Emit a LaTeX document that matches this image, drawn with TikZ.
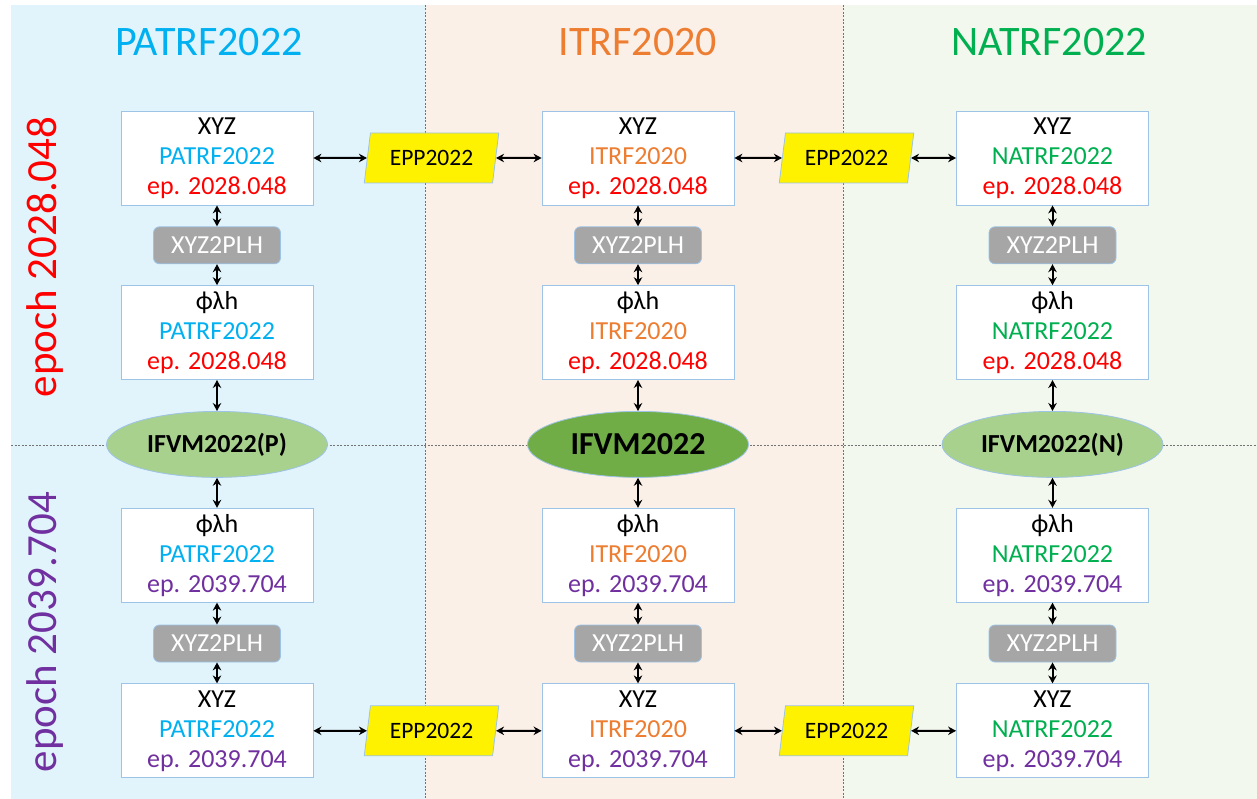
\documentclass[tikz,border=0pt]{standalone}
\usepackage{fontspec}
\setmainfont{Carlito}
\usepackage{xcolor}
\usetikzlibrary{shapes.geometric, arrows.meta, positioning}

\definecolor{patbg}{HTML}{E2F4FB}
\definecolor{itrbg}{HTML}{FBF0E8}
\definecolor{natbg}{HTML}{F3F8EE}
\definecolor{patcol}{HTML}{00B0F0}
\definecolor{itrcol}{HTML}{ED7D31}
\definecolor{natcol}{HTML}{00B050}
\definecolor{epacol}{HTML}{FF0000}
\definecolor{epbcol}{HTML}{7030A0}
\definecolor{edgecol}{HTML}{9DC3E6}
\definecolor{cvtfill}{HTML}{A6A6A6}
\definecolor{vmlight}{HTML}{A9D18E}
\definecolor{vmdark}{HTML}{70AD47}

\begin{document}
\begin{tikzpicture}[
    x=1pt, y=-1pt,
    coordbox/.style={rectangle, draw=edgecol, fill=white, line width=0.8pt, minimum width=192pt, minimum height=94pt, inner sep=2pt, align=center, font=\fontsize{26}{30}\selectfont},
    cvtbox/.style={rectangle, rounded corners=6pt, draw=edgecol, fill=cvtfill, line width=0.8pt, minimum width=127pt, minimum height=37pt, inner sep=1pt, text=white, font=\fontsize{26}{28}\selectfont},
    vmbox/.style={ellipse, draw=edgecol, fill=vmlight, line width=0.8pt, minimum width=221pt, minimum height=66pt, inner sep=0pt, font=\fontsize{26}{28}\selectfont\bfseries},
    eppbox/.style={trapezium, trapezium left angle=76, trapezium right angle=104, trapezium stretches=true, draw=edgecol, fill=yellow, line width=0.8pt, minimum width=135pt, minimum height=50pt, inner sep=1pt, font=\fontsize{23.5}{26}\selectfont},
    framelabel/.style={font=\fontsize{42}{48}\selectfont},
    epochlabel/.style={rotate=90, font=\fontsize{43}{48}\selectfont},
    biarrow/.style={{Stealth[length=8pt,width=8.5pt]}-{Stealth[length=8pt,width=8.5pt]}, line width=2pt},
    divider/.style={draw=black!55, line width=0.7pt, dash pattern=on 2pt off 1.5pt}
]
    \useasboundingbox (0,0) rectangle (1257,799);

    % Background panels and dividers
    \fill[patbg] (11,5) rectangle (425,799);
    \fill[itrbg] (425,5) rectangle (843,799);
    \fill[natbg] (843,5) rectangle (1257,799);
    \draw[divider] (425,5) -- (425,799);
    \draw[divider] (843,5) -- (843,799);
    \draw[divider] (11,445) -- (1257,445);

    % Frame titles
    \node (patTitle) [framelabel, text=patcol] at (209,42) {PATRF2022};
    \node (itrTitle) [framelabel, text=itrcol] at (638,42) {ITRF2020};
    \node (natTitle) [framelabel, text=natcol] at (1049,42) {NATRF2022};

    % Epoch labels
    \node (epochA) [epochlabel, text=epacol] at (45,257) {epoch 2028.048};
    \node (epochB) [epochlabel, text=epbcol] at (45,632) {epoch 2039.704};

    % PATRF2022 column
    \node (patTop) [coordbox] at (217,158) {XYZ\\\textcolor{patcol}{PATRF2022}\\\textcolor{epacol}{ep. 2028.048}};
    \node (patCvtA) [cvtbox, below=21pt of patTop] {XYZ2PLH};
    \node (patPlhA) [coordbox, below=21pt of patCvtA] {ϕλh\\\textcolor{patcol}{PATRF2022}\\\textcolor{epacol}{ep. 2028.048}};
    \node (patVm) [vmbox, below=31pt of patPlhA] {IFVM2022(P)};
    \node (patPlhB) [coordbox, below=30pt of patVm] {ϕλh\\\textcolor{patcol}{PATRF2022}\\\textcolor{epbcol}{ep. 2039.704}};
    \node (patCvtB) [cvtbox, below=22pt of patPlhB] {XYZ2PLH};
    \node (patBot) [coordbox, below=21pt of patCvtB] {XYZ\\\textcolor{patcol}{PATRF2022}\\\textcolor{epbcol}{ep. 2039.704}};

    % ITRF2020 column
    \node (itrTop) [coordbox] at (638,158) {XYZ\\\textcolor{itrcol}{ITRF2020}\\\textcolor{epacol}{ep. 2028.048}};
    \node (itrCvtA) [cvtbox, below=21pt of itrTop] {XYZ2PLH};
    \node (itrPlhA) [coordbox, below=21pt of itrCvtA] {ϕλh\\\textcolor{itrcol}{ITRF2020}\\\textcolor{epacol}{ep. 2028.048}};
    \node (itrVm) [vmbox, fill=vmdark, font=\fontsize{32}{34}\selectfont\bfseries, below=31pt of itrPlhA] {IFVM2022};
    \node (itrPlhB) [coordbox, below=30pt of itrVm] {ϕλh\\\textcolor{itrcol}{ITRF2020}\\\textcolor{epbcol}{ep. 2039.704}};
    \node (itrCvtB) [cvtbox, below=22pt of itrPlhB] {XYZ2PLH};
    \node (itrBot) [coordbox, below=21pt of itrCvtB] {XYZ\\\textcolor{itrcol}{ITRF2020}\\\textcolor{epbcol}{ep. 2039.704}};

    % NATRF2022 column
    \node (natTop) [coordbox] at (1052.5,158) {XYZ\\\textcolor{natcol}{NATRF2022}\\\textcolor{epacol}{ep. 2028.048}};
    \node (natCvtA) [cvtbox, below=21pt of natTop] {XYZ2PLH};
    \node (natPlhA) [coordbox, below=21pt of natCvtA] {ϕλh\\\textcolor{natcol}{NATRF2022}\\\textcolor{epacol}{ep. 2028.048}};
    \node (natVm) [vmbox, below=31pt of natPlhA] {IFVM2022(N)};
    \node (natPlhB) [coordbox, below=30pt of natVm] {ϕλh\\\textcolor{natcol}{NATRF2022}\\\textcolor{epbcol}{ep. 2039.704}};
    \node (natCvtB) [cvtbox, below=22pt of natPlhB] {XYZ2PLH};
    \node (natBot) [coordbox, below=21pt of natCvtB] {XYZ\\\textcolor{natcol}{NATRF2022}\\\textcolor{epbcol}{ep. 2039.704}};

    % Plate motion models between frames
    \node (eppTopL) [eppbox] at (431.5,158) {EPP2022};
    \node (eppTopR) [eppbox] at (846.5,158) {EPP2022};
    \node (eppBotL) [eppbox] at (eppTopL |- patBot) {EPP2022};
    \node (eppBotR) [eppbox] at (eppTopR |- patBot) {EPP2022};

    % Connecting Arrows
    \draw [biarrow] (patTop) -- (patCvtA);
    \draw [biarrow] (patCvtA) -- (patPlhA);
    \draw [biarrow] (patPlhA) -- (patVm);
    \draw [biarrow] (patVm) -- (patPlhB);
    \draw [biarrow] (patPlhB) -- (patCvtB);
    \draw [biarrow] (patCvtB) -- (patBot);

    \draw [biarrow] (itrTop) -- (itrCvtA);
    \draw [biarrow] (itrCvtA) -- (itrPlhA);
    \draw [biarrow] (itrPlhA) -- (itrVm);
    \draw [biarrow] (itrVm) -- (itrPlhB);
    \draw [biarrow] (itrPlhB) -- (itrCvtB);
    \draw [biarrow] (itrCvtB) -- (itrBot);

    \draw [biarrow] (natTop) -- (natCvtA);
    \draw [biarrow] (natCvtA) -- (natPlhA);
    \draw [biarrow] (natPlhA) -- (natVm);
    \draw [biarrow] (natVm) -- (natPlhB);
    \draw [biarrow] (natPlhB) -- (natCvtB);
    \draw [biarrow] (natCvtB) -- (natBot);

    \draw [biarrow] (patTop.east) -- (eppTopL.west);
    \draw [biarrow] (eppTopL.east) -- (itrTop.west);
    \draw [biarrow] (itrTop.east) -- (eppTopR.west);
    \draw [biarrow] (eppTopR.east) -- (natTop.west);
    \draw [biarrow] (patBot.east) -- (eppBotL.west);
    \draw [biarrow] (eppBotL.east) -- (itrBot.west);
    \draw [biarrow] (itrBot.east) -- (eppBotR.west);
    \draw [biarrow] (eppBotR.east) -- (natBot.west);

\end{tikzpicture}
\end{document}
